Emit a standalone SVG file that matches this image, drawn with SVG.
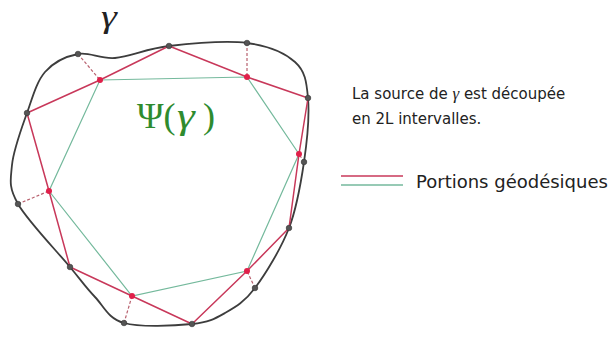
<svg xmlns="http://www.w3.org/2000/svg" width="615" height="338" viewBox="0 0 615 338">
<style>
.curve{fill:none;stroke:#3d3d3d;stroke-width:1.8}
.red{fill:none;stroke:#c8385a;stroke-width:1.5;stroke-linejoin:round}
.green{fill:none;stroke:#74b99c;stroke-width:1.2}
.dash{stroke:#b8606e;stroke-width:1.2;stroke-dasharray:3 2}
.bd{fill:#555;stroke:#333;stroke-width:0.6}
.rd{fill:#e0204a}
.txt{font-family:"DejaVu Sans",sans-serif;fill:#222}
.math{font-family:"Liberation Serif",serif}
.psi{font-family:"Liberation Serif",serif;fill:#2e8b2e;font-size:36px}
</style>
<rect width="615" height="338" fill="#fff"/>
<g id="curve">
<path class="curve" d="M78,54 C89.7,51.7 99.8,59.3 115,58 C130.2,56.7 147,48.5 169,46 C191,43.5 226,40.3 247,43 C268,45.7 284.8,52.8 295,62 C305.2,71.2 306.5,81.3 308,98 C309.5,114.7 307.2,140.3 304,162 C300.8,183.7 297.2,207 289,228 C280.8,249 265.7,273.8 255,288 C244.3,302.2 235.5,307 225,313 C214.5,319 208.8,322.3 192,324 C175.2,325.7 140.2,327.5 124,323 C107.8,318.5 104,306.3 95,297 C86,287.7 82.8,282.5 70,267 C57.2,251.5 27.7,221 18,204 C8.3,187 10.5,180.2 12,165 C13.5,149.8 21.5,128.5 27,113 C32.5,97.5 36.5,81.8 45,72 C53.5,62.2 66.3,56.3 78,54 Z"/>
</g>
<g id="connectors">
<polygon class="green" points="100,80 247,77 299,154 247,271 132,296 49,191"/>
<polygon class="red" points="27,113 100,80 169,46 247,77 308,98 299,154 289,228 247,271 192,324 132,296 70,267 49,191"/>
<line class="dash" x1="78" y1="54" x2="100" y2="80"/>
<line class="dash" x1="247" y1="43" x2="247" y2="77"/>
<line class="dash" x1="304" y1="162" x2="299" y2="154"/>
<line class="dash" x1="255" y1="288" x2="247" y2="271"/>
<line class="dash" x1="124" y1="323" x2="132" y2="296"/>
<line class="dash" x1="18" y1="204" x2="49" y2="191"/>
</g>
<g id="points">
<circle class="bd" cx="78" cy="54" r="2.8"/>
<circle class="bd" cx="169" cy="46" r="2.8"/>
<circle class="bd" cx="247" cy="43" r="2.8"/>
<circle class="bd" cx="308" cy="98" r="2.8"/>
<circle class="bd" cx="304" cy="162" r="2.8"/>
<circle class="bd" cx="289" cy="228" r="2.8"/>
<circle class="bd" cx="255" cy="288" r="2.8"/>
<circle class="bd" cx="192" cy="324" r="2.8"/>
<circle class="bd" cx="124" cy="323" r="2.8"/>
<circle class="bd" cx="70" cy="267" r="2.8"/>
<circle class="bd" cx="18" cy="204" r="2.8"/>
<circle class="bd" cx="27" cy="113" r="2.8"/>
<circle class="rd" cx="100" cy="80" r="3"/>
<circle class="rd" cx="247" cy="77" r="3"/>
<circle class="rd" cx="299" cy="154" r="3"/>
<circle class="rd" cx="247" cy="271" r="3"/>
<circle class="rd" cx="132" cy="296" r="3"/>
<circle class="rd" cx="49" cy="191" r="3"/>
</g>
<g id="labels">
<text class="math" transform="translate(101,27) scale(1.3,1)" font-size="31" font-style="italic" fill="#222">γ</text>
<text class="psi" x="137" y="128">Ψ(</text>
<text class="psi" transform="translate(177,128) scale(1.25,1)" font-style="italic">γ</text>
<text class="psi" x="203" y="128">)</text>
<text class="txt" x="352" y="99" font-size="15">La source de <tspan class="math" font-style="italic" font-size="17">γ</tspan> est découpée</text>
<text class="txt" x="352" y="124" font-size="15">en 2L intervalles.</text>
</g>
<g id="legend">
<line x1="341" y1="176" x2="403" y2="176" stroke="#c8385a" stroke-width="1.3"/>
<line x1="341" y1="185" x2="403" y2="185" stroke="#74b99c" stroke-width="1.3"/>
<text class="txt" x="416" y="188" font-size="18">Portions géodésiques</text>
</g>
</svg>
